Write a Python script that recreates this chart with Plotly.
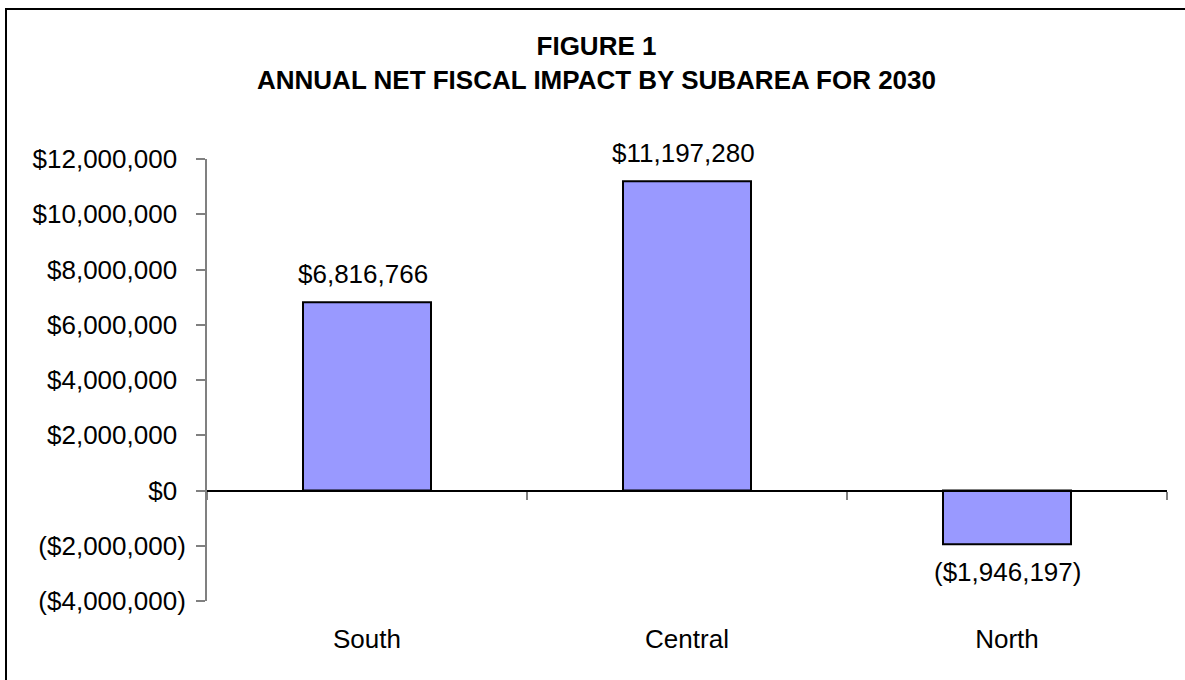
import plotly.graph_objects as go

# Annual net fiscal impact by subarea, 2030
subareas = ["South", "Central", "North"]
net_impact = [6816766, 11197280, -1946197]

y_ticks = [-4000000, -2000000, 0, 2000000, 4000000, 6000000, 8000000, 10000000, 12000000]

FONT = "Arial, Liberation Sans, Helvetica, sans-serif"
HIDDEN_PAREN = "<span style='color:rgba(0,0,0,0)'>)</span>"


def money(v):
    """Accounting style: $#,##0_);($#,##0)"""
    if v < 0:
        return "(${:,.0f})".format(-v)
    return "${:,.0f}".format(v) + HIDDEN_PAREN


W, H = 1185, 680
L, R, T, B = 207, 18, 159, 79
pw, ph = W - L - R, H - T - B

fig = go.Figure()

fig.add_trace(go.Bar(
    x=subareas, y=net_impact, width=0.4,
    marker=dict(color="#9999FF", line=dict(color="#000000", width=2)),
    hoverinfo="skip", showlegend=False,
))

# invisible trace that carries the category axis drawn along the zero line
fig.add_trace(go.Scatter(
    x=subareas, y=[0] * len(subareas), xaxis="x2", mode="markers",
    marker=dict(opacity=0), hoverinfo="skip", showlegend=False,
))

# value labels just beyond the end of each bar
for cat, v in zip(subareas, net_impact):
    fig.add_annotation(
        x=cat, y=v, text=money(v), showarrow=False,
        yanchor="middle", yshift=28 if v >= 0 else -28,
        font=dict(family=FONT, size=26, color="#000000"),
    )

y_lo, y_hi = y_ticks[0], y_ticks[-1]
zero_pos = (0 - y_lo) / (y_hi - y_lo)

# chart frame: left and top edges (the rest runs past the page edge)
fx0 = (6 - L) / pw
fx1 = (W + 60 - L) / pw
fy0 = -(B + 60) / ph
fy1 = (H - B - 9) / ph
frame_path = f"M {fx0},{fy0} L {fx0},{fy1} L {fx1},{fy1}"

fig.update_layout(
    width=W, height=H,
    margin=dict(l=L, r=R, t=T, b=B, pad=0),
    paper_bgcolor="#FFFFFF", plot_bgcolor="#FFFFFF",
    font=dict(family=FONT, size=26, color="#000000"),
    title=dict(
        text="<b>FIGURE 1</b><br><b>ANNUAL NET FISCAL IMPACT BY SUBAREA FOR 2030</b>",
        x=596.5 / W, xanchor="center", y=1 - 55 / H, yanchor="middle",
        font=dict(family=FONT, size=26, color="#000000"),
    ),
    xaxis=dict(
        type="category", showline=False, showgrid=False, zeroline=False,
        ticks="", ticklabelstandoff=20,
        tickfont=dict(family=FONT, size=26, color="#000000"),
    ),
    xaxis2=dict(
        type="category", overlaying="x", matches="x", anchor="free", position=zero_pos,
        showline=True, linecolor="#000000", linewidth=2,
        ticks="outside", tickson="boundaries", ticklen=8, tickwidth=2, tickcolor="#808080",
        showticklabels=False, showgrid=False, zeroline=False,
    ),
    yaxis=dict(
        range=[y_lo, y_hi], tickvals=y_ticks, ticktext=[money(v) for v in y_ticks],
        showline=True, linecolor="#808080", linewidth=2,
        ticks="outside", ticklen=9, tickwidth=2, tickcolor="#808080",
        showgrid=False, zeroline=False, ticklabelstandoff=5,
        tickfont=dict(family=FONT, size=26, color="#000000"),
    ),
    shapes=[dict(
        type="path", xref="paper", yref="paper", path=frame_path,
        line=dict(color="#000000", width=2), layer="above",
    )],
)

fig.write_html("out.html")
